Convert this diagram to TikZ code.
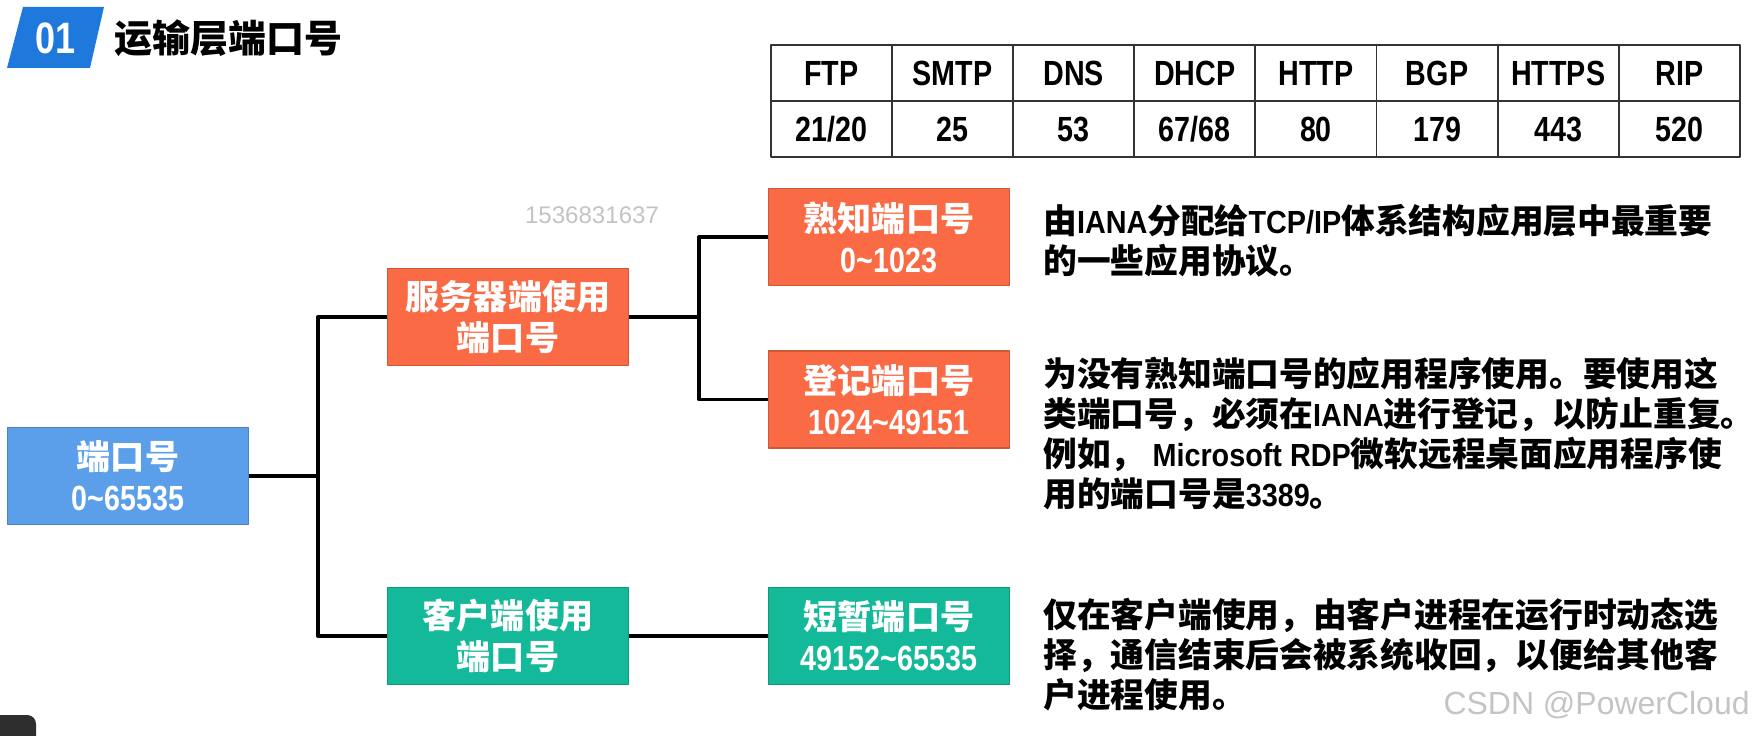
\documentclass[tikz,border=0pt]{standalone}
\usepackage{fontspec}
\setmainfont{Noto Sans CJK SC}[BoldFont={Noto Sans CJK SC Black}]
\newfontfamily\wmfont{Liberation Sans}
\newfontfamily\narrowfont{Liberation Sans}[FakeStretch=0.82]
\newfontfamily\descnarrow{Liberation Sans}[FakeStretch=0.9]
\definecolor{badgeblue}{HTML}{1F78DC}
\definecolor{portblue}{HTML}{5B9EE9}
\definecolor{srvorange}{HTML}{FA6A45}
\definecolor{cltgreen}{HTML}{13B998}
\definecolor{wmgray}{HTML}{C4C4C4}
\definecolor{cornergray}{HTML}{2E2E2E}
\newcommand\boxfont{\fontsize{19.4}{23.3}\selectfont\bfseries}
\newcommand\descfont{\fontsize{19.2}{22.8}\selectfont\bfseries}
\newcommand\cellfont{\narrowfont\fontsize{19.9}{22}\selectfont\bfseries}
\newcommand\latn[1]{{\narrowfont\bfseries\fontsize{19.9}{23.3}\selectfont #1}}
\newcommand\latd[1]{{\descnarrow\bfseries\fontsize{18.2}{22.8}\selectfont #1}}

\begin{document}
\begin{tikzpicture}[x=0.02cm,y=-0.02cm,line join=round,
  portbox/.style={fill=#1,draw=#1!82!black,line width=0.8pt,minimum width=4.82cm,minimum height=1.94cm,inner sep=0pt,text=white,align=center,font=\boxfont},
  link/.style={line width=1.9pt},
  desc/.style={anchor=north west,inner sep=0pt,align=left,font=\descfont},
  cell/.style={inner sep=0pt,font=\cellfont},
  tabline/.style={line width=1.1pt,draw=black!80}]
  \useasboundingbox (0,0) rectangle (1756,736);
  \def\tx{771}
  \def\cw{121.1}
  % title
  \fill[badgeblue] (23,7) -- (104,7) -- (90,68) -- (7,68) -- cycle;
  \node[text=white,font=\narrowfont\fontsize{25}{26}\selectfont\bfseries] (num) at (56,38) {01};
  \node[anchor=west,inner sep=0pt,font=\fontsize{21.6}{26}\selectfont\bfseries] (title) at (114,38) {运输层端口号};
  % table of well-known ports
  \draw[tabline] (\tx,45) rectangle ({\tx+8*\cw},157);
  \draw[tabline] (\tx,101) -- ({\tx+8*\cw},101);
  \foreach \i in {1,...,7}
    \draw[tabline] ({\tx+\i*\cw},45) -- ({\tx+\i*\cw},157);
  \foreach \i/\p/\n in {1/FTP/{21/20},2/SMTP/25,3/DNS/53,4/DHCP/{67/68},5/HTTP/80,6/BGP/179,7/HTTPS/443,8/RIP/520}{
    \node[cell] (hd\i) at ({\tx+(\i-0.5)*\cw},73) {\p};
    \node[cell] (pt\i) at ({\tx+(\i-0.5)*\cw},129) {\n};
  }
  % tree
  \node[portbox=portblue] (port) at (128,476) {端口号\\\latn{0\textasciitilde65535}};
  \node[portbox=srvorange] (server) at (508,317) {服务器端使用\\端口号};
  \node[portbox=cltgreen] (client) at (508,636) {客户端使用\\端口号};
  \node[portbox=srvorange] (known) at (889,237) {熟知端口号\\\latn{0\textasciitilde1023}};
  \node[portbox=srvorange] (reg) at (889,399.5) {登记端口号\\\latn{1024\textasciitilde49151}};
  \node[portbox=cltgreen] (eph) at (889,636) {短暂端口号\\\latn{49152\textasciitilde65535}};
  \coordinate (jp) at (318,476);
  \coordinate (js) at (699,317);
  \draw[link] (port.east) -- (jp) |- (server.west);
  \draw[link] (jp) |- (client.west);
  \draw[link] (server.east) -- (js) |- (known.west);
  \draw[link] (js) |- (reg.west);
  \draw[link] (client.east) -- (eph.west);
  % notes
  \node[desc] (d1) at (1043,204) {由\latd{IANA}分配给\latd{TCP/IP}体系结构应用层中最重要\\的一些应用协议。};
  \node[desc] (d2) at (1043,357) {为没有熟知端口号的应用程序使用。要使用这\\类端口号，必须在\latd{IANA}进行登记，以防止重复。\\例如，\latd{ Microsoft RDP}微软远程桌面应用程序使\\用的端口号是\latd{3389}。};
  \node[desc] (d3) at (1043,598) {仅在客户端使用，由客户进程在运行时动态选\\择，通信结束后会被系统收回，以便给其他客\\户进程使用。};
  % watermarks
  \node[text=wmgray,font=\wmfont\fontsize{13.7}{16}\selectfont] (wm) at (592,215) {1536831637};
  \node[anchor=east,inner sep=0pt,text=wmgray,font=\wmfont\fontsize{18.2}{20}\selectfont] (csdn) at (1750,705) {CSDN @PowerCloud};
  \fill[cornergray,rounded corners=5pt] (-20,760) rectangle (36,715);
\end{tikzpicture}
\end{document}
